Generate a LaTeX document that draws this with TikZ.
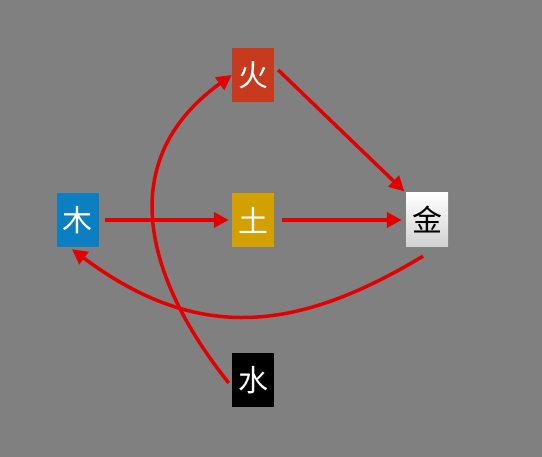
\documentclass[tikz,border=0pt]{standalone}
\usepackage{fontspec}
\newfontfamily\cjk{Noto Sans CJK SC}
\usetikzlibrary{arrows.meta,shadows,calc}
\definecolor{bg}{RGB}{128,128,128}
\definecolor{fire}{RGB}{200,58,30}
\definecolor{wood}{RGB}{10,128,195}
\definecolor{earth}{RGB}{210,160,0}
\definecolor{arrred}{RGB}{228,0,0}
\begin{document}
\begin{tikzpicture}[x=1pt,y=-1pt,
  elem/.style={minimum width=42pt,minimum height=54pt,inner sep=0pt,
    font=\cjk\fontsize{30}{32}\selectfont,text=white,
    drop shadow={shadow xshift=1.5pt,shadow yshift=-1.5pt,opacity=0.35}},
  arr/.style={draw=arrred,line width=3.5pt,-{Triangle[length=15pt,width=15pt]}}]
\fill[bg] (0,0) rectangle (542,457);
\useasboundingbox (0,0) rectangle (542,457);
\node[elem,fill=fire] (huo) at (253,75) {火};
\node[elem,fill=wood] (mu) at (78,220) {木};
\node[elem,fill=earth] (tu) at (253,220) {土};
\node[elem,top color=white,bottom color=black!18,text=black] (jin) at (427,220) {金};
\node[elem,fill=black] (shui) at (253,380) {水};
\draw[arr,shorten <=6pt,shorten >=3pt] (mu.east) -- (tu.west);
\draw[arr,shorten <=8pt,shorten >=4pt] (tu.east) -- (jin.west);
\draw[arr,shorten >=2pt] ($(huo.east)+(4,-5)$) -- (jin.north west);
\draw[arr] ($(shui.west)+(-3,3)$) .. controls (162,300) and (100,170) .. (huo.west);
\draw[arr] ($(jin.south)+(-4,9)$) .. controls (300,330) and (200,345) .. ($(mu.south)+(-6,2)$);
\end{tikzpicture}
\end{document}
